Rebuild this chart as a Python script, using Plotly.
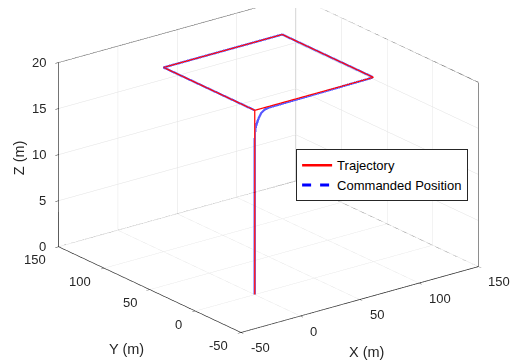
import plotly.graph_objects as go

# Trajectory (red) waypoints
traj_x = [0, 0, 100, 100, 0, 0]
traj_y = [0, 0, 0, 100, 100, 0]
traj_z = [0, 20, 20, 20, 20, 20]

# Commanded position (blue), smooth near first corner
cmd_x = [0, 0, 0.1, 0.3, 0.8, 2.0, 3.5, 5.3, 8.0, 12.5, 98.5, 100, 100, 100, 0, 0]
cmd_y = [0, 0, 0, 0, 0, 0, 0, 0, 0, 0, 0, 0.8, 100, 100, 100, 0]
cmd_z = [0, 16, 17.0, 17.6, 18.1, 18.6, 19.1, 19.5, 19.75, 19.88, 20, 20, 20, 20, 20, 20]

x_ticks = [-50, 0, 50, 100, 150]
y_ticks = [-50, 0, 50, 100, 150]
z_ticks = [0, 5, 10, 15, 20]
x_range = [-50, 150]
y_range = [-50, 150]
z_range = [0, 20]

FONT = "Liberation Sans, Arial, sans-serif"
DARK = "rgb(38,38,38)"

fig = go.Figure()
fig.add_trace(go.Scatter3d(x=traj_x, y=traj_y, z=traj_z, mode="lines",
                           line=dict(color="rgb(255,0,0)", width=2.5),
                           name="Trajectory", hoverinfo="skip"))
fig.add_trace(go.Scatter3d(x=cmd_x, y=cmd_y, z=cmd_z, mode="lines",
                           line=dict(color="rgb(80,80,255)", width=4.5), opacity=0.95,
                           showlegend=False, hoverinfo="skip"))
fig.add_trace(go.Scatter3d(x=[None], y=[None], z=[None], mode="lines",
                           line=dict(color="rgb(0,0,255)", width=3, dash="dash"),
                           name="Commanded Position"))

# Box frame (back planes), built from axis ranges
x0, x1 = x_range
y0, y1 = y_range
z0, z1 = z_range
edges = [
    ((x0, y1, z1), (x1, y1, z1)), ((x1, y1, z1), (x1, y0, z1)),
    ((x1, y1, z0), (x1, y1, z1)), ((x1, y0, z0), (x1, y0, z1)),
    ((x0, y1, z0), (x1, y1, z0)), ((x1, y1, z0), (x1, y0, z0)),
]
fx, fy, fz = [], [], []
for a, b in edges:
    fx += [a[0], b[0], None]
    fy += [a[1], b[1], None]
    fz += [a[2], b[2], None]
fig.add_trace(go.Scatter3d(x=fx, y=fy, z=fz, mode="lines",
                           line=dict(color=DARK, width=1.2),
                           showlegend=False, hoverinfo="skip"))

tickfont = dict(family=FONT, size=13, color=DARK)
titlefont = dict(family=FONT, size=14.5, color=DARK)

annotations = []
for t in x_ticks:
    annotations.append(dict(x=t, y=y0, z=z0, text=str(t), showarrow=False,
                            xanchor="left", yanchor="middle", xshift=8, yshift=-15, font=tickfont))
for t in y_ticks:
    annotations.append(dict(x=x0, y=t, z=z0, text=str(t), showarrow=False,
                            xanchor="right", yanchor="middle", xshift=-11, yshift=-13, font=tickfont))
for t in z_ticks:
    annotations.append(dict(x=x0, y=y1, z=t, text=str(t), showarrow=False,
                            xanchor="right", yanchor="middle", xshift=-11, yshift=0, font=tickfont))
annotations.append(dict(x=(x0 + x1) / 2, y=y0, z=z0, text="X (m)", showarrow=False,
                        xanchor="center", yanchor="middle", xshift=7, yshift=-52, font=titlefont))
annotations.append(dict(x=x0, y=(y0 + y1) / 2, z=z0, text="Y (m)", showarrow=False,
                        xanchor="center", yanchor="middle", xshift=-23, yshift=-59, font=titlefont))
annotations.append(dict(x=x0, y=y1, z=(z0 + z1) / 2, text="Z (m)", showarrow=False, textangle=-90,
                        xanchor="center", yanchor="middle", xshift=-40, yshift=-3, font=titlefont))

def ax(rng, ticks):
    return dict(range=rng, tickvals=ticks, showticklabels=False,
                title=dict(text=""),
                showbackground=False, showgrid=True, gridcolor="rgb(225,225,225)", gridwidth=1,
                showline=True, linecolor=DARK, linewidth=1.5,
                ticks="outside", ticklen=4, tickcolor=DARK,
                zeroline=False, showspikes=False, autorange=False)

S = 1.645
fig.update_layout(
    width=521, height=364, margin=dict(l=0, r=0, t=0, b=0),
    paper_bgcolor="white",
    font=dict(family=FONT, color=DARK),
    scene=dict(
        xaxis=ax(x_range, x_ticks),
        yaxis=ax(y_range, y_ticks),
        zaxis=ax(z_range, z_ticks),
        aspectmode="manual", aspectratio=dict(x=S, y=S, z=0.66 * S),
        camera=dict(projection=dict(type="orthographic"),
                    eye=dict(x=-1.164, y=-1.515, z=0.59),
                    up=dict(x=0, y=0, z=1), center=dict(x=0, y=0, z=-0.15)),
        domain=dict(x=[0, 1], y=[0, 1]),
        annotations=annotations,
    ),
    legend=dict(x=0.553, y=0.612, xanchor="left", yanchor="top",
                bgcolor="white", bordercolor=DARK, borderwidth=1,
                font=dict(size=13, family=FONT, color="black"),
                tracegroupgap=0, itemwidth=30),
)
fig.write_html("out.html")
